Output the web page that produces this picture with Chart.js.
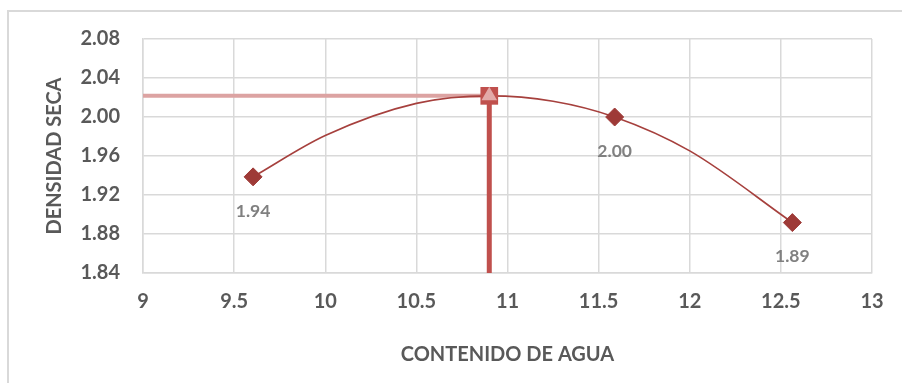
<!DOCTYPE html>
<html>
<head>
<meta charset="utf-8">
<script src="https://cdn.jsdelivr.net/npm/chart.js@4.4.1/dist/chart.umd.min.js"></script>
<style>
    html, body { margin: 0; padding: 0; background: #fff; }
    #wrap { position: relative; width: 902px; height: 383px; }
    #frame { position: absolute; left: 7px; top: 10px; right: -5px; bottom: -5px; border: 2px solid #d9d9d9; }
    canvas { position: absolute; left: 0; top: 0; }
</style>
</head>
<body>
<div id="wrap">
    <div id="frame"></div>
    <canvas id="proctor" width="902" height="383"></canvas>
</div>
<script>
// ensayo proctor: contenido de agua vs densidad seca
const humedad = [9.604, 11.588, 12.563];
const densidad = [1.9386, 2.0, 1.8917];
const etiquetas = ['1.94', '2.00', '1.89'];

// curva de tendencia
const curvaX = [9.604, 10.0, 10.5, 10.9, 11.25, 11.588, 12.0, 12.563];
const curvaY = [1.9386, 1.981, 2.014, 2.0217, 2.0162, 2.0, 1.9652, 1.8917];

// optimo: humedad optima y densidad maxima
const optimoX = 10.9;
const optimoY = 2.0217;

const xMin = 9, xMax = 13, xStep = 0.5;
const yMin = 1.84, yMax = 2.08, yStep = 0.04;

const fuente = "Lato, 'Open Sans', sans-serif";

const toPoints = (xs, ys) => xs.map((x, i) => ({x: x, y: ys[i]}));

// etiquetas de datos debajo de cada punto
const dataLabels = {
    id: 'dataLabels',
    afterDatasetsDraw(chart) {
        const ctx = chart.ctx;
        const xs = chart.scales.x, ys = chart.scales.y;
        ctx.save();
        ctx.font = "bold 17.5px " + fuente;
        ctx.fillStyle = '#808080';
        ctx.textAlign = 'center';
        ctx.textBaseline = 'middle';
        humedad.forEach((h, i) => {
            ctx.fillText(etiquetas[i], xs.getPixelForValue(h), ys.getPixelForValue(densidad[i]) + 34);
        });
        ctx.restore();
    }
};

new Chart(document.getElementById('proctor').getContext('2d'), {
    type: 'scatter',
    data: {
        datasets: [
            {
                label: 'horizontal',
                data: [{x: xMin, y: optimoY}, {x: optimoX, y: optimoY}],
                showLine: true,
                borderColor: '#dca3a2',
                borderWidth: 4,
                pointRadius: 0,
                order: 5
            },
            {
                label: 'vertical',
                data: [{x: optimoX, y: optimoY}, {x: optimoX, y: yMin}],
                showLine: true,
                borderColor: '#c0504d',
                borderWidth: 5,
                pointRadius: 0,
                order: 4
            },
            {
                label: 'tendencia',
                data: toPoints(curvaX, curvaY),
                showLine: true,
                borderColor: '#a6403d',
                borderWidth: 1.6,
                pointRadius: 0,
                cubicInterpolationMode: 'monotone',
                order: 3
            },
            {
                label: 'optimo',
                data: [{x: optimoX, y: optimoY}],
                pointStyle: 'rect',
                pointRadius: 12.5,
                backgroundColor: '#c0504d',
                borderWidth: 0,
                order: 2
            },
            {
                label: 'optimo2',
                data: [{x: optimoX, y: optimoY}],
                pointStyle: 'triangle',
                pointRadius: 9,
                backgroundColor: '#e3a9a8',
                borderWidth: 0,
                order: 1
            },
            {
                label: 'ensayo',
                data: toPoints(humedad, densidad),
                pointStyle: 'rectRot',
                pointRadius: 9,
                backgroundColor: '#9e3a37',
                borderColor: '#9e3a37',
                borderWidth: 1,
                order: 0
            }
        ]
    },
    options: {
        responsive: false,
        animation: false,
        layout: {
            padding: {left: 0, top: 39, right: 30, bottom: 0}
        },
        plugins: {
            legend: {display: false},
            tooltip: {enabled: false}
        },
        scales: {
            x: {
                type: 'linear',
                min: xMin,
                max: xMax,
                afterFit: (scale) => {
                    scale.height = 110;
                    scale.paddingLeft = 0;
                    scale.paddingRight = 0;
                },
                ticks: {
                    stepSize: xStep,
                    padding: 17,
                    color: '#595959',
                    font: {family: fuente, size: 20, weight: 'bold'},
                    callback: (v) => String(Math.round(v * 10) / 10)
                },
                grid: {color: '#d9d9d9', lineWidth: 1.5, drawTicks: false},
                border: {color: '#d9d9d9', width: 1.5},
                title: {
                    display: true,
                    text: 'CONTENIDO DE AGUA',
                    color: '#595959',
                    font: {family: fuente, size: 20, weight: 'bold'},
                    padding: {top: 0, bottom: 16}
                }
            },
            y: {
                type: 'linear',
                min: yMin,
                max: yMax,
                afterFit: (scale) => {
                    scale.width = 143;
                    scale.paddingTop = 0;
                    scale.paddingBottom = 0;
                },
                ticks: {
                    stepSize: yStep,
                    padding: 23,
                    color: '#595959',
                    font: {family: fuente, size: 20, weight: 'bold'},
                    callback: (v) => v.toFixed(2)
                },
                grid: {color: '#d9d9d9', lineWidth: 1.5, drawTicks: false},
                border: {color: '#d9d9d9', width: 1.5},
                title: {
                    display: true,
                    text: 'DENSIDAD SECA',
                    color: '#595959',
                    font: {family: fuente, size: 20, weight: 'bold'},
                    padding: {top: 43, bottom: 0}
                }
            }
        }
    },
    plugins: [dataLabels]
});
</script>
</body>
</html>
